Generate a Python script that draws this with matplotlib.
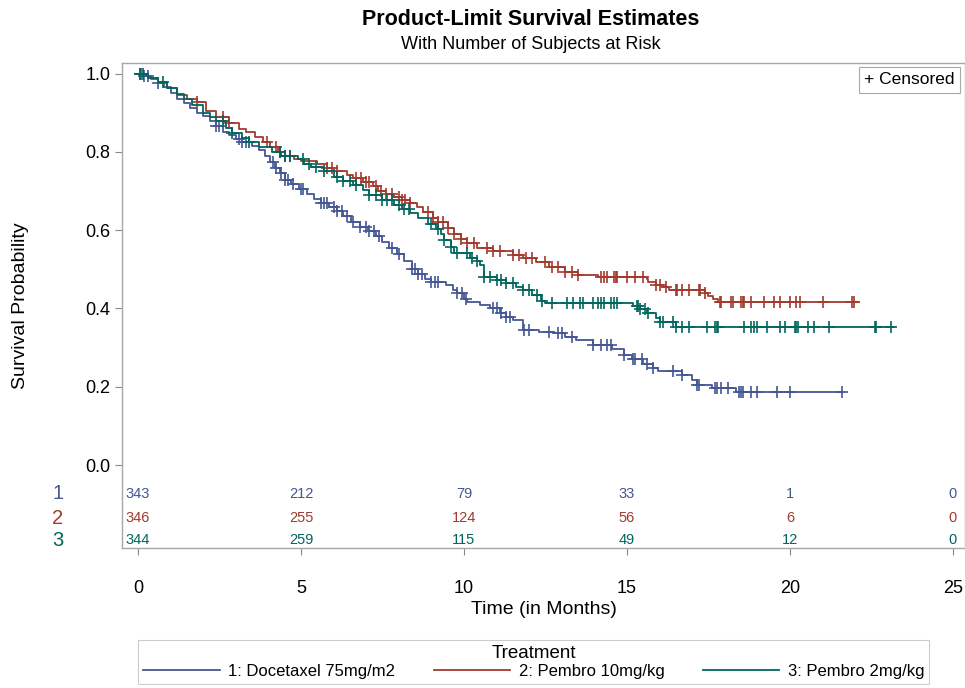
import numpy as np
import matplotlib
matplotlib.use("Agg")
import matplotlib.pyplot as plt
from matplotlib.lines import Line2D
import matplotlib.transforms as mtransforms

plt.rcParams['font.family'] = ['Liberation Sans', 'DejaVu Sans']

# ---------- data ----------
labels = ["1: Docetaxel 75mg/m2", "2: Pembro 10mg/kg", "3: Pembro 2mg/kg"]
colors = ["#445694", "#A23A2E", "#01665E"]

# step points (time in months, survival) and last follow-up time
doce_t = [0, 0.2, 0.4, 0.6, 0.8, 1.0, 1.2, 1.4, 1.6, 1.8, 2.0, 2.2, 2.4, 2.6, 2.8, 3.0, 3.2, 3.5,
          3.7, 3.9, 4.05, 4.2, 4.35, 4.5, 4.7, 4.95, 5.2, 5.4, 5.6, 5.85, 6.1, 6.3, 6.55, 6.8, 7.05,
          7.3, 7.5, 7.7, 7.95, 8.15, 8.4, 8.6, 8.8, 9.0, 9.45, 9.65, 9.8, 10.0, 10.1, 10.5, 10.8,
          11.1, 11.3, 11.5, 11.8, 12.3, 12.75, 13.1, 13.45, 13.95, 14.55, 14.9, 15.15, 15.5, 15.8,
          15.95, 16.7, 17.0, 17.15, 17.6, 18.35]
doce_s = [1.0, 0.994, 0.985, 0.975, 0.965, 0.950, 0.935, 0.925, 0.912, 0.900, 0.892, 0.880, 0.866,
          0.852, 0.843, 0.832, 0.824, 0.815, 0.806, 0.790, 0.774, 0.760, 0.745, 0.728, 0.718, 0.705,
          0.692, 0.680, 0.669, 0.660, 0.648, 0.635, 0.622, 0.608, 0.598, 0.585, 0.570, 0.555, 0.540,
          0.522, 0.500, 0.487, 0.475, 0.467, 0.460, 0.448, 0.440, 0.425, 0.416, 0.408, 0.400, 0.388,
          0.378, 0.370, 0.345, 0.340, 0.337, 0.328, 0.320, 0.307, 0.296, 0.280, 0.270, 0.258, 0.248,
          0.240, 0.230, 0.217, 0.205, 0.198, 0.186]
doce_end = 21.6

p10_t = [0, 0.3, 0.6, 0.9, 1.2, 1.5, 1.8, 2.1, 2.4, 2.8, 3.1, 3.3, 3.6, 3.85, 4.05, 4.3, 4.5, 4.8,
         5.0, 5.5, 5.8, 6.0, 6.4, 6.6, 6.9, 7.2, 7.35, 7.6, 7.85, 8.1, 8.35, 8.55, 8.75, 9.05, 9.2,
         9.5, 9.7, 9.9, 10.1, 10.4, 10.9, 11.5, 11.8, 12.2, 12.6, 13.1, 13.5, 14.1, 15.6, 15.65,
         15.9, 16.1, 16.3, 17.4, 17.5, 17.65, 17.8]
p10_s = [1.0, 0.990, 0.975, 0.962, 0.945, 0.935, 0.927, 0.905, 0.890, 0.874, 0.858, 0.850, 0.838,
         0.825, 0.812, 0.800, 0.790, 0.782, 0.776, 0.768, 0.760, 0.752, 0.742, 0.733, 0.724, 0.712,
         0.700, 0.692, 0.685, 0.678, 0.670, 0.660, 0.646, 0.630, 0.620, 0.605, 0.590, 0.578, 0.567,
         0.554, 0.547, 0.536, 0.529, 0.518, 0.506, 0.493, 0.486, 0.480, 0.475, 0.468, 0.460, 0.455,
         0.447, 0.440, 0.432, 0.424, 0.416]
p10_end = 22.1

p2_t = [0, 0.3, 0.6, 0.9, 1.2, 1.4, 1.65, 2.0, 2.2, 2.4, 2.7, 2.9, 3.2, 3.4, 3.7, 4.1, 4.4, 4.9,
        5.1, 5.3, 5.7, 6.0, 6.3, 6.6, 6.9, 7.1, 7.5, 7.85, 8.1, 8.35, 8.6, 8.9, 9.15, 9.3, 9.4,
        9.6, 9.7, 10.2, 10.4, 10.5, 10.6, 11.0, 11.3, 11.6, 11.8, 12.1, 12.35, 12.5, 15.2, 15.4,
        15.6, 15.9, 16.0, 16.5]
p2_s = [1.0, 0.990, 0.978, 0.962, 0.948, 0.935, 0.920, 0.900, 0.890, 0.878, 0.862, 0.848, 0.836,
        0.825, 0.812, 0.800, 0.790, 0.782, 0.770, 0.761, 0.750, 0.736, 0.725, 0.715, 0.703, 0.690,
        0.678, 0.664, 0.655, 0.644, 0.630, 0.615, 0.603, 0.590, 0.575, 0.558, 0.541, 0.530, 0.520,
        0.510, 0.480, 0.472, 0.465, 0.455, 0.447, 0.435, 0.420, 0.414, 0.405, 0.398, 0.388, 0.375,
        0.365, 0.353]
p2_end = 23.2

# censoring times
doce_cens = [0.05, 0.1, 0.2, 0.3, 0.6, 2.4, 2.5, 3.1, 3.2, 3.3, 4.15, 4.25, 4.4, 4.5, 4.6, 4.75,
             5.0, 5.05, 5.6, 5.7, 5.8, 6.0, 6.1, 6.25, 6.4, 6.6, 6.8, 7.0, 7.1, 7.25, 7.4, 7.8, 8.0,
             8.4, 8.5, 8.6, 8.7, 9.0, 9.1, 9.2, 9.8, 9.95, 10.05, 10.9, 11.0, 11.15, 11.3, 11.4,
             11.85, 12.0, 12.6, 12.9, 13.0, 13.3, 13.95, 14.2, 14.4, 14.5, 14.9, 15.2, 15.25, 15.45,
             15.6, 15.8, 16.4, 16.7, 17.15, 17.2, 17.7, 17.76, 17.9, 18.1, 18.45, 18.5, 18.55,
             18.8, 19.0, 19.6, 20.0, 21.6]
p10_cens = [1.8, 2.6, 2.8, 3.95, 4.25, 4.35, 4.5, 4.65, 5.8, 5.95, 6.1, 6.7, 6.85, 7.0, 7.1, 7.3,
            7.45, 7.6, 7.8, 8.0, 8.1, 8.2, 8.35, 8.9, 9.05, 9.2, 9.35, 9.5, 9.7, 9.9, 10.1, 10.3,
            10.7, 10.9, 11.1, 11.5, 11.7, 11.9, 12.1, 12.5, 12.7, 12.9, 13.1, 13.3, 13.5, 14.2,
            14.3, 14.4, 14.6, 14.65, 14.7, 15.0, 15.25, 15.5, 15.9, 16.0, 16.2, 16.5, 16.55, 16.7,
            16.9, 17.2, 17.25, 17.4, 17.85, 17.9, 18.2, 18.25, 18.5, 18.55, 18.6, 18.8, 19.2,
            19.5, 19.7, 20.0, 20.2, 20.3, 21.0, 21.9, 21.95]
p2_cens = [0.05, 0.15, 0.77, 2.6, 2.9, 3.4, 4.35, 4.5, 4.65, 5.05, 5.25, 5.45, 5.7, 6.1, 6.3, 6.5,
           6.7, 7.1, 7.3, 7.5, 7.65, 7.8, 8.0, 8.15, 8.3, 9.0, 9.2, 9.4, 9.6, 9.8, 10.1, 10.25,
           10.4, 10.6, 10.8, 11.0, 11.15, 11.3, 11.5, 11.8, 12.0, 12.25, 12.4, 12.7, 13.15, 13.35,
           13.55, 13.65, 13.95, 14.1, 14.2, 14.3, 14.5, 14.6, 14.7, 15.3, 15.35, 15.4, 15.55,
           15.65, 16.0, 16.1, 16.4, 16.5, 16.7, 16.9, 17.45, 17.7, 17.75, 17.8, 18.6, 18.8, 18.9,
           19.0, 19.3, 19.7, 19.85, 20.15, 20.2, 20.25, 20.55, 20.75, 21.2, 22.6, 22.65, 23.1]

# number at risk
risk_times = [0, 5, 10, 15, 20, 25]
doce_risk = [343, 212, 79, 33, 1, 0]
p10_risk = [346, 255, 124, 56, 6, 0]
p2_risk = [344, 259, 115, 49, 12, 0]

arms = [
    (doce_t, doce_s, doce_end, doce_cens, doce_risk),
    (p10_t, p10_s, p10_end, p10_cens, p10_risk),
    (p2_t, p2_s, p2_end, p2_cens, p2_risk),
]

# ---------- figure ----------
fig = plt.figure(figsize=(9.65, 6.88), dpi=100)
ax = fig.add_axes([0.1264, 0.2035, 0.8736, 0.7049])

risk_y = [-0.074, -0.136, -0.192]
row_x = mtransforms.blended_transform_factory(fig.transFigure, ax.transData)

for i, (t, s, t_end, cens, risk) in enumerate(arms):
    c = colors[i]
    tt = np.append(t, t_end)
    ss = np.append(s, s[-1])
    ax.plot(tt, ss, drawstyle='steps-post', color=c, lw=1.3)
    # censor marks sit on the step curve
    idx = np.searchsorted(t, cens, side='right') - 1
    cy = np.array(s)[idx]
    ax.plot(cens, cy, ls='none', marker='+', ms=9, mew=1.2, color=c)
    for rt, n in zip(risk_times, risk):
        ax.text(rt, risk_y[i], str(n), color=c, fontsize=10.5, ha='center', va='center')
    ax.text(58 / 965, risk_y[i], str(i + 1), color=c, fontsize=14.5,
            ha='center', va='center', transform=row_x)

ax.set_xlim(-0.49, 25.37)
ax.set_ylim(-0.212, 1.027)
ax.set_xticks([0, 5, 10, 15, 20, 25])
ax.set_yticks([0.0, 0.2, 0.4, 0.6, 0.8, 1.0])
ax.set_yticklabels(["0.0", "0.2", "0.4", "0.6", "0.8", "1.0"])
ax.tick_params(axis='both', labelsize=13, color='#888888', length=5, width=0.8)
ax.tick_params(axis='x', pad=18)
for sp in ax.spines.values():
    sp.set_color('#A8A8A8')
    sp.set_linewidth(1.0)

ax.set_xlabel("Time (in Months)", fontsize=14, labelpad=3)
ax.set_ylabel("Survival Probability", fontsize=14, labelpad=40)

ax.text(0.988, 0.965, "+ Censored", transform=ax.transAxes, fontsize=12.5,
        ha='right', va='center',
        bbox=dict(boxstyle='square,pad=0.3', fc='white', ec='#A8A8A8', lw=0.8))

fig.text(0.55, 0.972, "Product-Limit Survival Estimates", fontsize=15.5,
         fontweight='bold', ha='center', va='center')
fig.text(0.55, 0.935, "With Number of Subjects at Risk", fontsize=13,
         ha='center', va='center')

handles = [Line2D([], [], color=c, lw=1.3) for c in colors]
leg = fig.legend(handles, labels, title="Treatment", ncol=3, loc='lower center',
                 bbox_to_anchor=(0.553, -0.006), fontsize=12, title_fontsize=13.5,
                 handlelength=4.6, columnspacing=2.3, handletextpad=0.5,
                 fancybox=False, edgecolor='#C0C0C0', borderpad=0.3,
                 labelspacing=0.2)
leg.get_frame().set_linewidth(0.8)
leg._legend_box.sep = 1

fig.savefig("out.png", dpi=100)
